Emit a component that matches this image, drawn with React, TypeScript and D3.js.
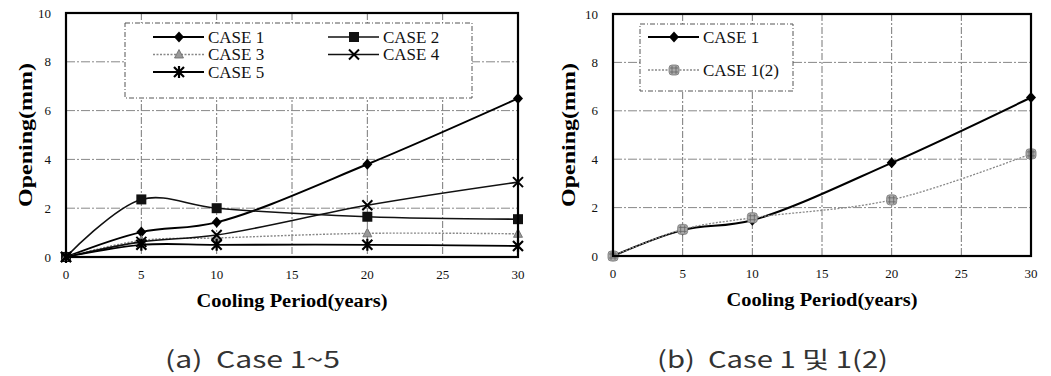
import * as d3 from "d3";

// cooling period (years)
const years = [0, 5, 10, 20, 30];

// panel (a) openings in mm
const case1 = [0, 1.02, 1.42, 3.8, 6.5];
const case2 = [0, 2.36, 2.0, 1.65, 1.55];
const case3 = [0, 0.68, 0.78, 0.97, 0.95];
const case4 = [0, 0.62, 0.9, 2.12, 3.07];
const case5 = [0, 0.5, 0.5, 0.5, 0.45];

// panel (b)
const case1b = [0, 1.07, 1.48, 3.85, 6.55];
const case12 = [0, 1.1, 1.58, 2.32, 4.22];

const xTicks = [0, 5, 10, 15, 20, 25, 30];
const yTicks = [0, 2, 4, 6, 8, 10];

type Marker = "diamond" | "square" | "triangle" | "cross" | "star" | "hatch";

interface Series {
  name: string;
  values: number[];
  marker: Marker;
  color: string;
  width: number;
  dash?: string;
}

const seriesA: Series[] = [
  { name: "CASE 1", values: case1, marker: "diamond", color: "#000", width: 2 },
  { name: "CASE 2", values: case2, marker: "square", color: "#111", width: 1.6 },
  { name: "CASE 3", values: case3, marker: "triangle", color: "#888", width: 1.4, dash: "2,1.5" },
  { name: "CASE 4", values: case4, marker: "cross", color: "#111", width: 1.6 },
  { name: "CASE 5", values: case5, marker: "star", color: "#000", width: 1.8 },
];

const seriesB: Series[] = [
  { name: "CASE 1", values: case1b, marker: "diamond", color: "#000", width: 2 },
  { name: "CASE 1(2)", values: case12, marker: "hatch", color: "#888", width: 1.3, dash: "2,1.5" },
];

const serif = "'Liberation Serif', 'DejaVu Serif', serif";
const sans = "'Noto Sans CJK KR', 'DejaVu Sans', sans-serif";

function MarkerShape({ type, x, y }: { type: Marker; x: number; y: number }) {
  switch (type) {
    case "diamond":
      return <path d={`M${x},${y - 5.5}L${x + 5},${y}L${x},${y + 5.5}L${x - 5},${y}Z`} fill="#000" />;
    case "square":
      return <rect x={x - 5} y={y - 5} width={10} height={10} fill="#111" />;
    case "triangle":
      return (
        <path
          d={`M${x},${y - 5}L${x + 4.5},${y + 3.5}L${x - 4.5},${y + 3.5}Z`}
          fill="#999"
          stroke="#666"
          strokeWidth={0.8}
        />
      );
    case "cross":
      return (
        <path
          d={`M${x - 5},${y - 5}L${x + 5},${y + 5}M${x + 5},${y - 5}L${x - 5},${y + 5}`}
          stroke="#000"
          strokeWidth={2}
        />
      );
    case "star":
      return (
        <path
          d={`M${x - 5},${y - 5}L${x + 5},${y + 5}M${x + 5},${y - 5}L${x - 5},${y + 5}M${x},${y - 6}L${x},${y + 6}`}
          stroke="#000"
          strokeWidth={2.2}
        />
      );
    case "hatch":
      return (
        <g>
          <rect x={x - 5} y={y - 5} width={10} height={10} rx={3} fill="#aaa" stroke="#777" strokeWidth={0.8} />
          <path
            d={`M${x - 4},${y - 2}L${x + 4},${y - 2}M${x - 4},${y + 2}L${x + 4},${y + 2}M${x - 2},${y - 4}L${x - 2},${y + 4}M${x + 2},${y - 4}L${x + 2},${y + 4}`}
            stroke="#666"
            strokeWidth={0.8}
          />
        </g>
      );
  }
}

interface LegendBox {
  x: number;
  y: number;
  w: number;
  h: number;
  cols: number;
  rowH: number;
  colW: number;
  firstY: number;
  pad: number;
}

interface PanelProps {
  left: number;
  right: number;
  top: number;
  bottom: number;
  series: Series[];
  legend: LegendBox;
  yTitleX: number;
}

function Panel({ left, right, top, bottom, series, legend, yTitleX }: PanelProps) {
  const x = d3.scaleLinear().domain([0, 30]).range([left, right]);
  const y = d3.scaleLinear().domain([0, 10]).range([bottom, top]);
  const line = d3
    .line<number>()
    .x((_, i) => x(years[i]))
    .y((d) => y(d))
    .curve(d3.curveCatmullRom.alpha(0.5));

  return (
    <g>
      {/* grid */}
      {xTicks.slice(1, -1).map((t) => (
        <line key={"gx" + t} x1={x(t)} x2={x(t)} y1={top} y2={bottom} stroke="#777" strokeDasharray="7,2,2,2" />
      ))}
      {yTicks.slice(1, -1).map((t) => (
        <line key={"gy" + t} x1={left} x2={right} y1={y(t)} y2={y(t)} stroke="#888" strokeDasharray="9,2,2,2" />
      ))}

      {/* legend */}
      <rect
        x={legend.x}
        y={legend.y}
        width={legend.w}
        height={legend.h}
        fill="#fff"
        stroke="#555"
        strokeDasharray="5,2,1,2"
      />
      {series.map((s, i) => {
        const col = i % legend.cols;
        const row = Math.floor(i / legend.cols);
        const lx = legend.x + legend.pad + col * legend.colW;
        const ly = legend.firstY + row * legend.rowH;
        return (
          <g key={"lg" + s.name}>
            <line x1={lx} x2={lx + 51} y1={ly} y2={ly} stroke={s.color} strokeWidth={s.width} strokeDasharray={s.dash} />
            <MarkerShape type={s.marker} x={lx + 26} y={ly} />
            <text x={lx + 55} y={ly} dy="0.33em" fontFamily={serif} fontSize={17} fill="#111">
              {s.name}
            </text>
          </g>
        );
      })}

      {/* series */}
      {series.map((s) => (
        <g key={"s" + s.name}>
          <path d={line(s.values) ?? ""} fill="none" stroke={s.color} strokeWidth={s.width} strokeDasharray={s.dash} />
          {s.values.map((v, i) => (
            <MarkerShape key={i} type={s.marker} x={x(years[i])} y={y(v)} />
          ))}
        </g>
      ))}

      {/* frame */}
      <rect x={left} y={top} width={right - left} height={bottom - top} fill="none" stroke="#000" strokeWidth={2.2} />

      {/* tick labels */}
      {yTicks.map((t) => (
        <text key={"yt" + t} x={left - 15} y={y(t)} dy="0.35em" textAnchor="end" fontFamily={serif} fontSize={13} fill="#111">
          {t}
        </text>
      ))}
      {xTicks.map((t) => (
        <text key={"xt" + t} x={x(t)} y={bottom + 22} textAnchor="middle" fontFamily={serif} fontSize={13} fill="#111">
          {t}
        </text>
      ))}

      {/* axis titles */}
      <text
        x={(left + right) / 2}
        y={bottom + 50}
        textAnchor="middle"
        fontFamily={serif}
        fontWeight="bold"
        fontSize={18}
        textLength={191}
        lengthAdjust="spacingAndGlyphs"
        fill="#000"
      >
        Cooling Period(years)
      </text>
      <text
        transform={`translate(${yTitleX},${(top + bottom) / 2}) rotate(-90)`}
        textAnchor="middle"
        dy="0.35em"
        fontFamily={serif}
        fontWeight="bold"
        fontSize={19}
        textLength={144}
        lengthAdjust="spacingAndGlyphs"
        fill="#000"
      >
        Opening(mm)
      </text>
    </g>
  );
}

export default function App() {
  return (
    <svg width={1051} height={376} style={{ position: "absolute", left: 0, top: 0, background: "#fff" }}>
      <rect width={1051} height={376} fill="#fff" />
      <Panel
        left={66}
        right={518}
        top={13}
        bottom={257}
        series={seriesA}
        yTitleX={25}
        legend={{ x: 125, y: 23, w: 347, h: 75, cols: 2, rowH: 17.5, colW: 175, firstY: 37, pad: 28 }}
      />
      <Panel
        left={613}
        right={1031}
        top={14}
        bottom={256}
        series={seriesB}
        yTitleX={568}
        legend={{ x: 640, y: 24, w: 153, h: 67, cols: 1, rowH: 33, colW: 0, firstY: 37, pad: 8 }}
      />
      <text
        x={165}
        y={360}
        dy="0.35em"
        fontFamily={sans}
        fontSize={23}
        fill="#333"
        textLength={175}
        lengthAdjust="spacingAndGlyphs"
        style={{ whiteSpace: "pre" }}
      >
        (a)  Case 1~5
      </text>
      <text
        x={657}
        y={360}
        dy="0.35em"
        fontFamily={sans}
        fontSize={23}
        fill="#333"
        textLength={231}
        lengthAdjust="spacingAndGlyphs"
        style={{ whiteSpace: "pre" }}
      >
        (b)  Case 1 및 1(2)
      </text>
    </svg>
  );
}
